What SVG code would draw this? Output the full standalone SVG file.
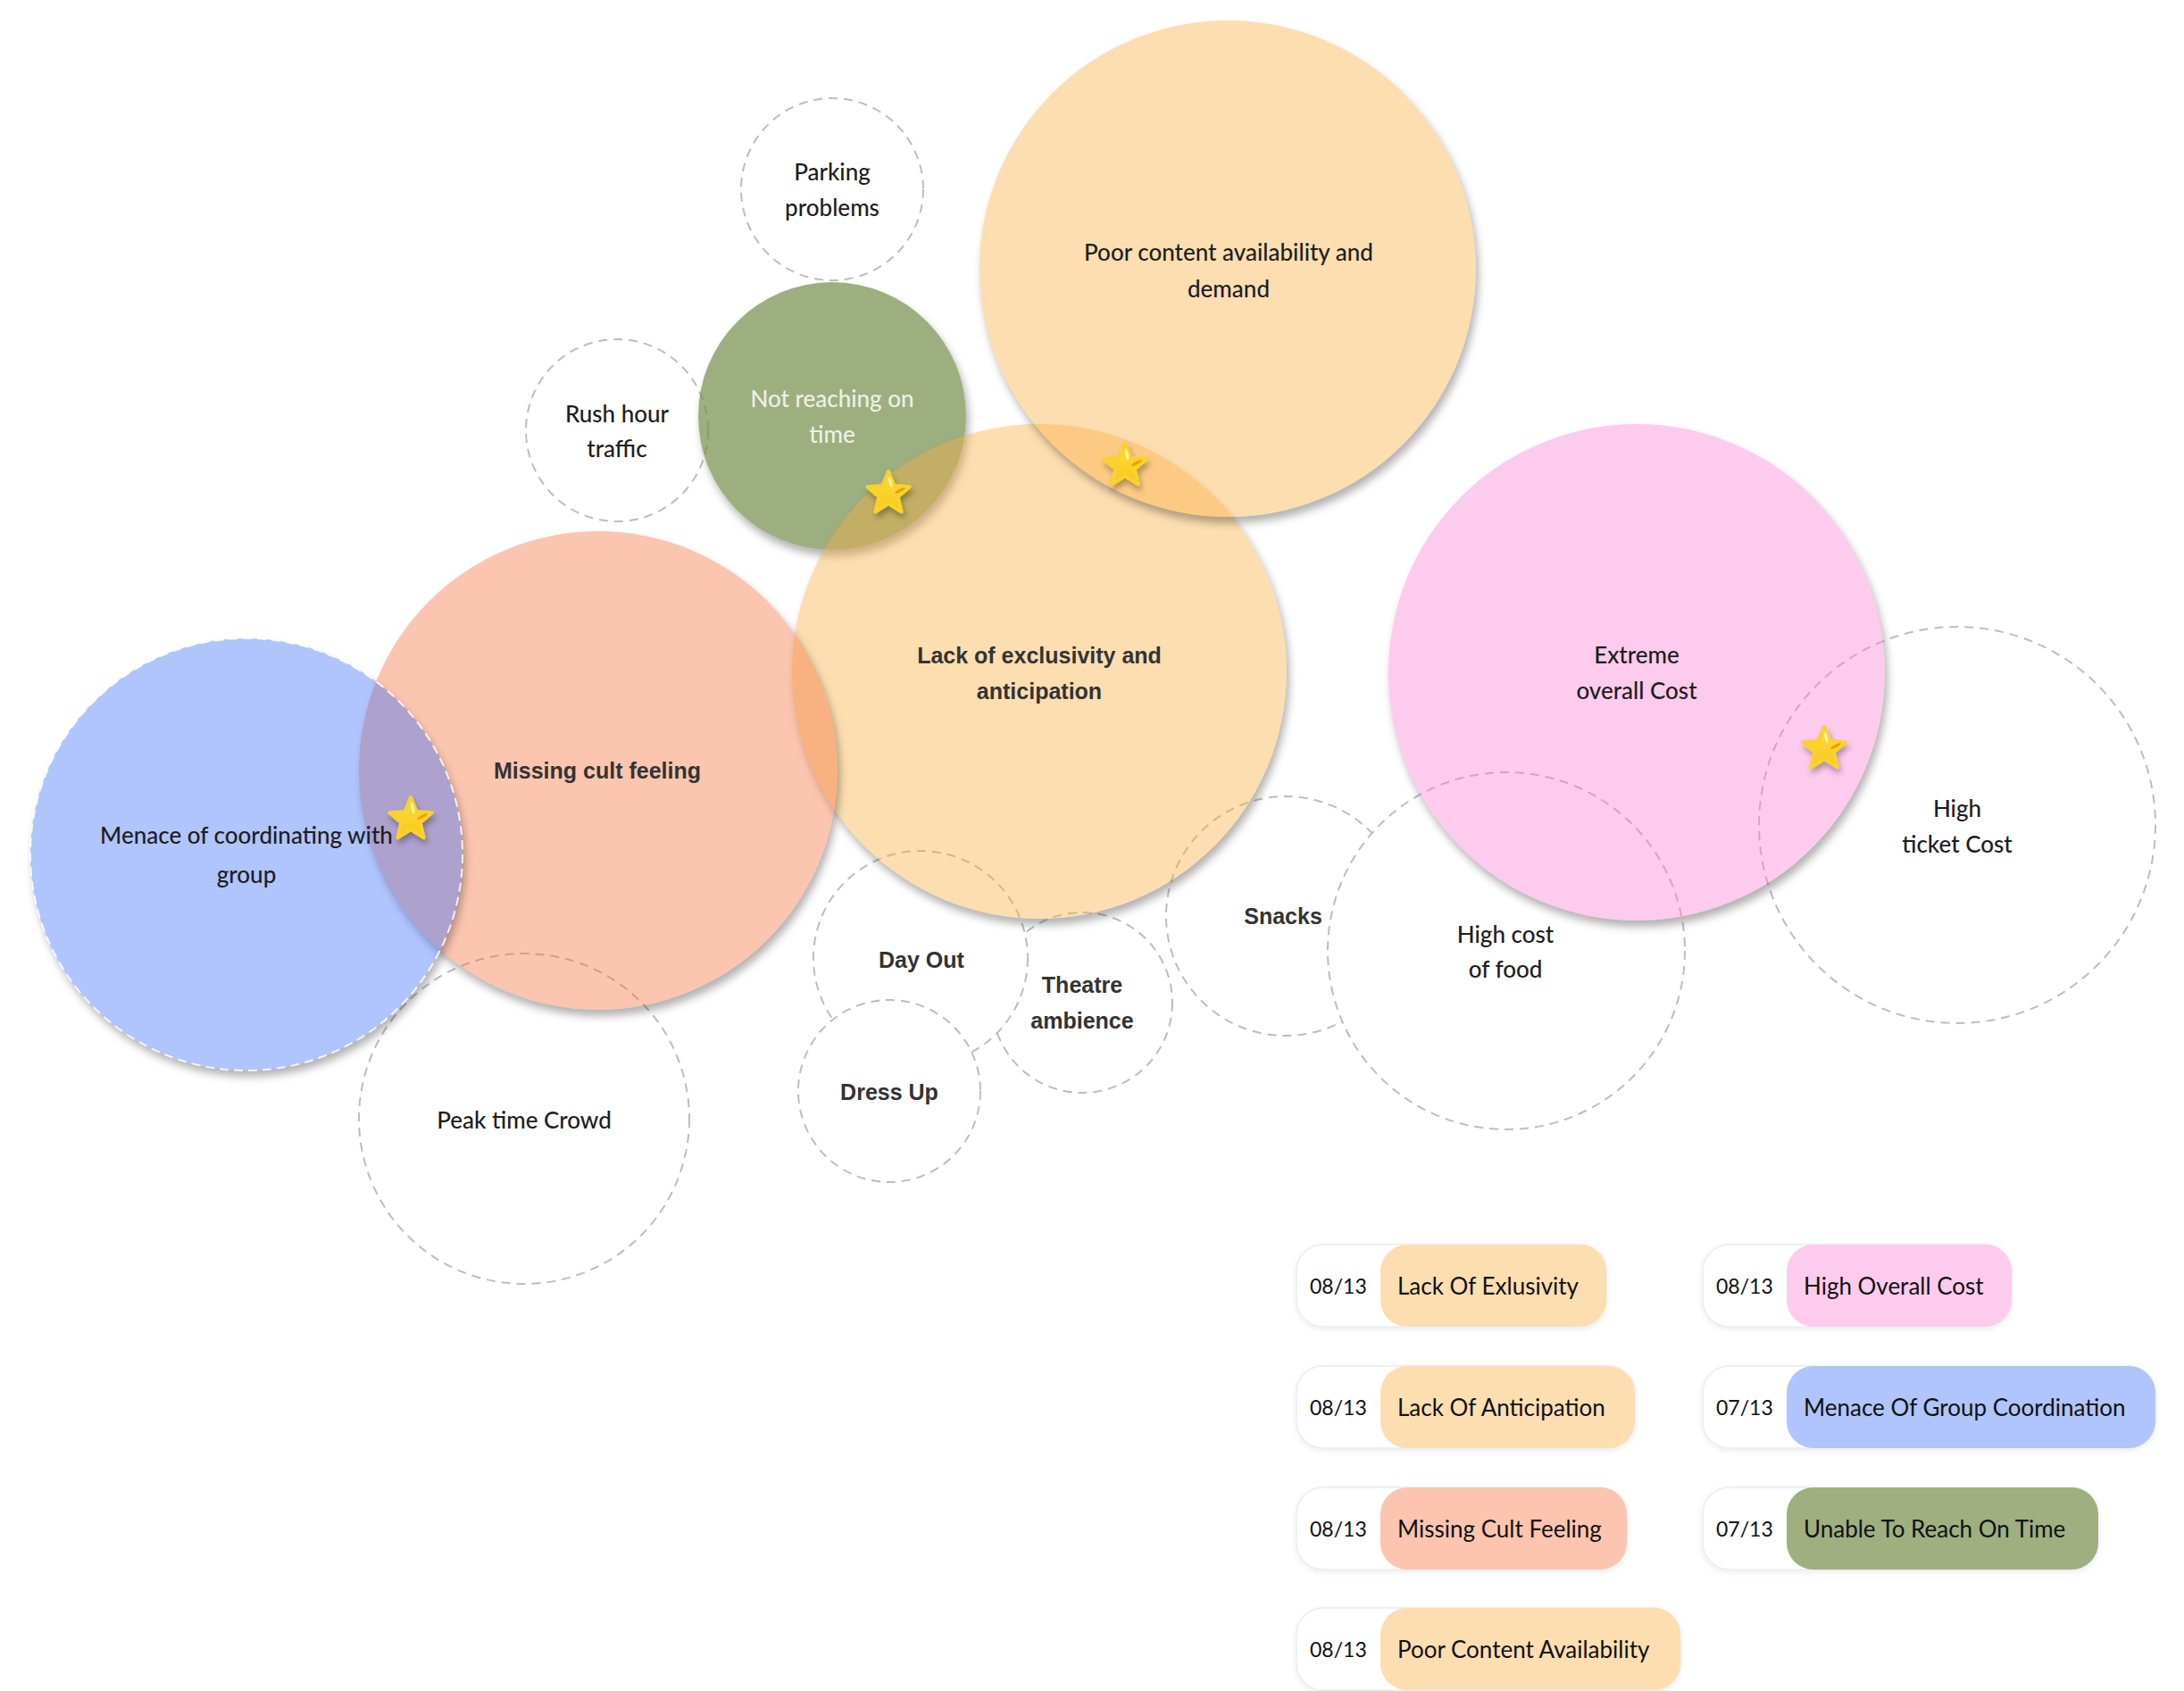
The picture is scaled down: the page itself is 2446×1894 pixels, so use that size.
<svg xmlns="http://www.w3.org/2000/svg" width="2446" height="1894" viewBox="0 0 2446 1894">
<defs>
<style>
.dash{fill:#fff;stroke:#bdbdbd;stroke-width:2;stroke-dasharray:10 7}
.t1{font-family:Lato,"Noto Sans",sans-serif;font-size:26px;font-weight:500;fill:#1e1e1e;text-anchor:middle}
.t2{font-family:"Liberation Sans",Arial,sans-serif;font-size:25px;font-weight:bold;fill:#333;text-anchor:middle}
.tw{fill:#eef0e6}
.ln{font-family:Lato,"Noto Sans",sans-serif;font-size:23px;fill:#111}
.ll{font-family:Lato,"Noto Sans",sans-serif;font-size:26px;fill:#111}
.pw{fill:#fff;stroke:#ececec;stroke-width:1.5}
</style>
<filter id="sh" x="-20%" y="-20%" width="140%" height="140%">
<feGaussianBlur in="SourceAlpha" stdDeviation="5"/>
<feOffset dx="3" dy="7" result="b"/>
<feFlood flood-color="#000" flood-opacity="0.3"/>
<feComposite in2="b" operator="in" result="s"/>
<feComposite in="s" in2="SourceAlpha" operator="out"/>
</filter>
<filter id="psh" x="-10%" y="-30%" width="120%" height="160%">
<feDropShadow dx="0" dy="2" stdDeviation="3" flood-color="#000" flood-opacity="0.08"/>
</filter>
<filter id="ssh" x="-50%" y="-50%" width="200%" height="200%">
<feDropShadow dx="2" dy="5" stdDeviation="3" flood-color="#000" flood-opacity="0.3"/>
</filter>
<linearGradient id="sg" x1="0" y1="0" x2="0" y2="1">
<stop offset="0" stop-color="#ffdc3a"/>
<stop offset="1" stop-color="#f7c81e"/>
</linearGradient>
<g id="star">
<path d="M0,-25 L6.5,-9 L23.8,-7.7 L10.6,3.4 L14.7,20.2 L0,11.1 L-14.7,20.2 L-10.6,3.4 L-23.8,-7.7 L-6.5,-9 Z" fill="url(#sg)" stroke="#fbd22c" stroke-width="4" stroke-linejoin="round" filter="url(#ssh)"/>
<ellipse cx="2.2" cy="-13" rx="1.8" ry="6.5" transform="rotate(-12 2.2 -13)" fill="#fff3a6"/>
<ellipse cx="13" cy="-3.5" rx="6.5" ry="1.8" transform="rotate(-28 13 -3.5)" fill="#eaa300"/>
</g>
</defs>
<rect width="2446" height="1894" fill="#fff"/>

<g id="connectors"/>

<g id="theatre-ambience">
<circle class="dash" cx="1212" cy="1123" r="101"/>
<text class="t2" x="1212" y="1112">Theatre</text>
<text class="t2" x="1212" y="1152">ambience</text>
</g>
<g id="day-out">
<circle class="dash" cx="1031" cy="1073" r="120"/>
<text class="t2" x="1032" y="1084">Day Out</text>
</g>
<g id="dress-up">
<circle class="dash" cx="996" cy="1222" r="102"/>
<text class="t2" x="996" y="1232">Dress Up</text>
</g>
<g id="snacks">
<circle class="dash" cx="1440" cy="1026" r="134"/>
<text class="t2" x="1437" y="1035">Snacks</text>
</g>
<g id="high-cost-of-food">
<circle class="dash" cx="1687" cy="1065" r="200"/>
<text class="t1" x="1686" y="1056">High cost</text>
<text class="t1" x="1686" y="1095">of food</text>
</g>
<g id="high-ticket-cost">
<circle class="dash" cx="2192" cy="924" r="222"/>
<text class="t1" x="2192" y="915">High</text>
<text class="t1" x="2192" y="955">ticket Cost</text>
</g>
<g id="peak-time-crowd">
<circle class="dash" cx="587" cy="1253" r="185"/>
<text class="t1" x="587" y="1264">Peak time Crowd</text>
</g>
<g id="parking-problems">
<circle class="dash" cx="932" cy="212" r="102"/>
<text class="t1" x="932" y="202">Parking</text>
<text class="t1" x="932" y="242">problems</text>
</g>
<g id="rush-hour-traffic">
<circle class="dash" cx="691" cy="482" r="102"/>
<text class="t1" x="691" y="473">Rush hour</text>
<text class="t1" x="691" y="512">traffic</text>
</g>

<g id="not-reaching-on-time">
<circle cx="932" cy="466" r="150" fill="#000" filter="url(#sh)"/>
<circle cx="932" cy="466" r="150" fill="#748d48" fill-opacity="0.7"/>
<text class="t1 tw" x="932" y="456">Not reaching on</text>
<text class="t1 tw" x="932" y="496">time</text>
</g>
<g id="lack-of-exclusivity">
<circle cx="1164" cy="752" r="277" fill="#000" filter="url(#sh)"/>
<circle cx="1164" cy="752" r="277" fill="#faad3c" fill-opacity="0.4"/>
<text class="t2" x="1164" y="743">Lack of exclusivity and</text>
<text class="t2" x="1164" y="783">anticipation</text>
</g>
<g id="missing-cult-feeling">
<circle cx="670" cy="863" r="268" fill="#000" filter="url(#sh)"/>
<circle cx="670" cy="863" r="268" fill="#f56e3a" fill-opacity="0.4"/>
<text class="t2" x="669" y="872">Missing cult feeling</text>
</g>
<g id="menace-of-coordinating">
<circle cx="276" cy="957" r="242" fill="#000" filter="url(#sh)"/>
<circle cx="276" cy="957" r="242" fill="#3a6cfa" fill-opacity="0.4" stroke="#fff" stroke-opacity="0.85" stroke-width="2" stroke-dasharray="10 6"/>
<text class="t1" x="276" y="945">Menace of coordinating with</text>
<text class="t1" x="276" y="989">group</text>
</g>
<g id="poor-content">
<circle cx="1375" cy="301" r="278" fill="#000" filter="url(#sh)"/>
<circle cx="1375" cy="301" r="278" fill="#faad3c" fill-opacity="0.4"/>
<text class="t1" x="1376" y="292">Poor content availability and</text>
<text class="t1" x="1376" y="333">demand</text>
</g>
<g id="extreme-overall-cost">
<circle cx="1833" cy="753" r="278" fill="#000" filter="url(#sh)"/>
<circle cx="1833" cy="753" r="278" fill="#fa7dd2" fill-opacity="0.4"/>
<text class="t1" x="1833" y="743">Extreme</text>
<text class="t1" x="1833" y="783">overall Cost</text>
</g>

<g id="stars">
<use href="#star" x="995" y="553"/>
<use href="#star" x="1260" y="522"/>
<use href="#star" x="460" y="918"/>
<use href="#star" x="2043" y="839"/>
</g>

<g id="legend">
<g id="legend-lack-exclusivity">
<rect class="pw" x="1452" y="1394" width="347" height="92" rx="30" filter="url(#psh)"/>
<rect x="1546" y="1394" width="253" height="92" rx="30" fill="#fddeb1"/>
<text class="ln" x="1467" y="1449">08/13</text>
<text class="ll" x="1565" y="1450">Lack Of Exlusivity</text>
</g>
<g id="legend-lack-anticipation">
<rect class="pw" x="1452" y="1530" width="379" height="92" rx="30" filter="url(#psh)"/>
<rect x="1546" y="1530" width="285" height="92" rx="30" fill="#fddeb1"/>
<text class="ln" x="1467" y="1585">08/13</text>
<text class="ll" x="1565" y="1586">Lack Of Anticipation</text>
</g>
<g id="legend-missing-cult">
<rect class="pw" x="1452" y="1666" width="370" height="92" rx="30" filter="url(#psh)"/>
<rect x="1546" y="1666" width="276" height="92" rx="30" fill="#fdc5b0"/>
<text class="ln" x="1467" y="1721">08/13</text>
<text class="ll" x="1565" y="1722">Missing Cult Feeling</text>
</g>
<g id="legend-poor-content">
<rect class="pw" x="1452" y="1801" width="430" height="92" rx="30" filter="url(#psh)"/>
<rect x="1546" y="1801" width="336" height="92" rx="30" fill="#fddeb1"/>
<text class="ln" x="1467" y="1856">08/13</text>
<text class="ll" x="1565" y="1857">Poor Content Availability</text>
</g>
<g id="legend-high-cost">
<rect class="pw" x="1907" y="1394" width="346" height="92" rx="30" filter="url(#psh)"/>
<rect x="2001" y="1394" width="252" height="92" rx="30" fill="#fdcbed"/>
<text class="ln" x="1922" y="1449">08/13</text>
<text class="ll" x="2020" y="1450">High Overall Cost</text>
</g>
<g id="legend-menace">
<rect class="pw" x="1907" y="1530" width="507" height="92" rx="30" filter="url(#psh)"/>
<rect x="2001" y="1530" width="413" height="92" rx="30" fill="#b0c4fd"/>
<text class="ln" x="1922" y="1585">07/13</text>
<text class="ll" x="2020" y="1586">Menace Of Group Coordination</text>
</g>
<g id="legend-unable">
<rect class="pw" x="1907" y="1666" width="443" height="92" rx="30" filter="url(#psh)"/>
<rect x="2001" y="1666" width="349" height="92" rx="30" fill="#9faf80"/>
<text class="ln" x="1922" y="1721">07/13</text>
<text class="ll" x="2020" y="1722">Unable To Reach On Time</text>
</g>
</g>
</svg>
